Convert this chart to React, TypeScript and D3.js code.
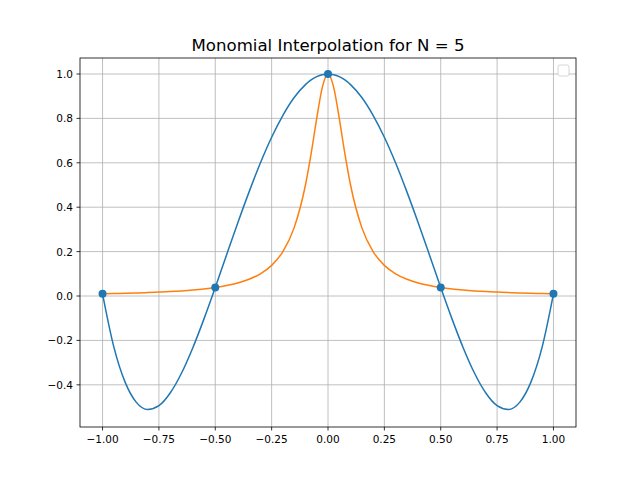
import React from 'react';
import * as d3 from 'd3';

// values
const xs = [-1, -0.95, -0.9, -0.85, -0.8, -0.75, -0.7, -0.65, -0.6, -0.55, -0.5, -0.45, -0.4, -0.35, -0.3, -0.25, -0.2, -0.15, -0.1, -0.075, -0.05, -0.025, 0,
  0.025, 0.05, 0.075, 0.1, 0.15, 0.2, 0.25, 0.3, 0.35, 0.4, 0.45, 0.5, 0.55, 0.6, 0.65, 0.7, 0.75, 0.8, 0.85, 0.9, 0.95, 1];
const interp = [0.01, -0.229, -0.388, -0.479, -0.511, -0.494, -0.437, -0.348, -0.234, -0.103, 0.038, 0.185, 0.33, 0.469, 0.599, 0.715, 0.814, 0.894, 0.952, 0.973, 0.988, 0.997, 1,
  0.997, 0.988, 0.973, 0.952, 0.894, 0.814, 0.715, 0.599, 0.469, 0.33, 0.185, 0.038, -0.103, -0.234, -0.348, -0.437, -0.494, -0.511, -0.479, -0.388, -0.229, 0.01];
const runge = [0.0099, 0.011, 0.0122, 0.0137, 0.0154, 0.0175, 0.02, 0.0231, 0.027, 0.032, 0.0385, 0.047, 0.0588, 0.0755, 0.1, 0.138, 0.2, 0.308, 0.5, 0.64, 0.8, 0.941, 1,
  0.941, 0.8, 0.64, 0.5, 0.308, 0.2, 0.138, 0.1, 0.0755, 0.0588, 0.047, 0.0385, 0.032, 0.027, 0.0231, 0.02, 0.0175, 0.0154, 0.0137, 0.0122, 0.011, 0.0099];
const nodesX = [-1, -0.5, 0, 0.5, 1];
const nodesY = [0.0099, 0.0385, 1, 0.0385, 0.0099];
const xTicks = [-1, -0.75, -0.5, -0.25, 0, 0.25, 0.5, 0.75, 1];
const yTicks = [-0.4, -0.2, 0, 0.2, 0.4, 0.6, 0.8, 1.0];

const L = 80, R = 576, T = 58, B = 427;

export default function App() {
  const x = d3.scaleLinear().domain([-1.1, 1.1]).range([L, R]);
  const y = d3.scaleLinear().domain([-0.59, 1.072]).range([B, T]);
  const line = (vals: number[]) =>
    d3.line<number>().x((_, i) => x(xs[i])).y(v => y(v)).curve(d3.curveMonotoneX)(vals) || '';
  const font = 'DejaVu Sans, sans-serif';
  return (
    <svg width={640} height={480} style={{ position: 'absolute', left: 0, top: 0, background: '#fff' }} fontFamily={font}>
      <rect x={0} y={0} width={640} height={480} fill="#fff" />
      {xTicks.map(t => (
        <g key={'x' + t}>
          <line x1={x(t)} x2={x(t)} y1={T} y2={B} stroke="#b0b0b0" strokeWidth={0.8} />
          <line x1={x(t)} x2={x(t)} y1={B} y2={B + 3.5} stroke="#000" strokeWidth={0.8} />
          <text x={x(t)} y={B + 16} fontSize={10.5} textAnchor="middle">{t.toFixed(2).replace('-', '\u2212')}</text>
        </g>
      ))}
      {yTicks.map(t => (
        <g key={'y' + t}>
          <line x1={L} x2={R} y1={y(t)} y2={y(t)} stroke="#b0b0b0" strokeWidth={0.8} />
          <line x1={L - 3.5} x2={L} y1={y(t)} y2={y(t)} stroke="#000" strokeWidth={0.8} />
          <text x={L - 7} y={y(t) + 4} fontSize={10.5} textAnchor="end">{t.toFixed(1).replace('-', '\u2212')}</text>
        </g>
      ))}
      <path d={line(interp)} fill="none" stroke="#1f77b4" strokeWidth={1.5} />
      <path d={line(runge)} fill="none" stroke="#ff7f0e" strokeWidth={1.5} />
      {nodesX.map((n, i) => (
        <circle key={'n' + i} cx={x(n)} cy={y(nodesY[i])} r={4} fill="#1f77b4" />
      ))}
      <rect x={L} y={T} width={R - L} height={B - T} fill="none" stroke="#000" strokeWidth={0.8} />
      <rect x={558} y={65} width={11} height={11} rx={2} fill="#fff" stroke="#ccc" strokeWidth={0.8} />
      <text x={(L + R) / 2} y={T - 7} fontSize={16.6} textAnchor="middle">Monomial Interpolation for N = 5</text>
    </svg>
  );
}
